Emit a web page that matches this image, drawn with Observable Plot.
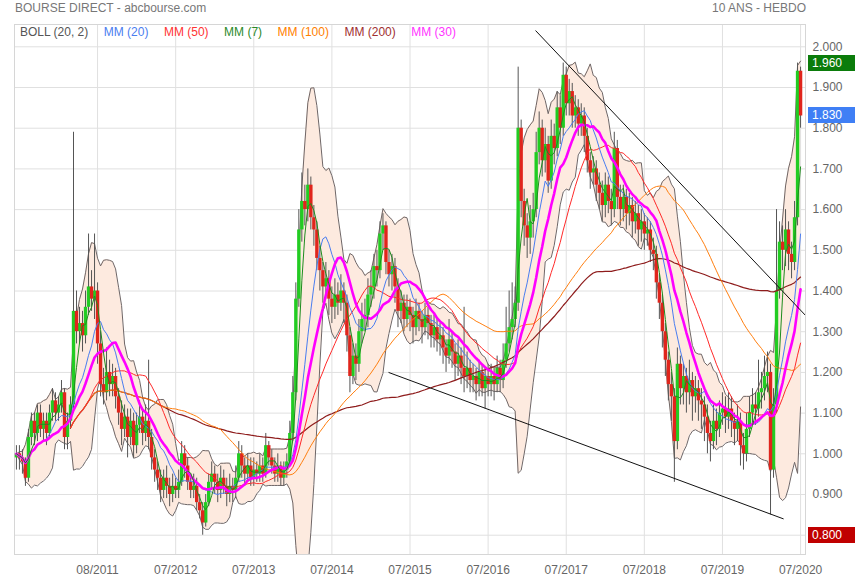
<!DOCTYPE html>
<html><head><meta charset="utf-8">
<script src="https://cdn.jsdelivr.net/npm/d3@7"></script>
<script src="https://cdn.jsdelivr.net/npm/@observablehq/plot@0.6"></script>
<style>
body{margin:0;background:#fff;font-family:"Liberation Sans",Arial,sans-serif;}
#wrap{position:relative;width:855px;height:580px;overflow:hidden;background:#fff;}
#wrap svg{display:block;position:absolute;left:0;top:0;}
.hdr{position:absolute;top:0;font-size:12px;color:#777;line-height:16px;white-space:nowrap;}
#legend{position:absolute;left:20px;top:24px;height:20px;display:flex;gap:15.5px;font-size:12px;line-height:17px;white-space:nowrap;}
.vbox{position:absolute;left:808px;width:47px;height:16px;color:#fff;font-size:12px;line-height:16px;padding-left:4px;box-sizing:border-box;}
</style></head><body><div id="wrap"></div>
<script>
// ---- data (biweekly sampling of the weekly chart) ----
const firstDate = "2010-07-19";
const firstOpen = 0.99;
const close = [
1.00,0.99,0.98,0.94,1.04,1.08,1.05,1.10,1.06,1.08,
1.05,1.10,1.13,1.10,1.12,1.15,1.04,1.08,1.12,1.35,
1.30,1.32,1.29,1.36,1.41,1.38,1.40,1.27,1.17,1.15,
1.20,1.17,1.19,1.14,1.10,1.06,1.09,1.04,1.08,1.02,
1.07,1.09,1.05,1.08,1.04,0.99,0.96,0.94,0.91,0.94,
0.92,0.90,0.92,0.91,0.93,1.00,0.97,0.93,0.91,0.92,
0.88,0.86,0.83,0.88,0.93,0.95,0.93,0.91,0.94,0.92,
0.90,0.92,0.91,0.94,1.00,0.97,0.95,0.97,0.94,0.96,
0.95,0.97,0.95,1.02,0.99,0.97,0.95,0.97,0.94,0.96,
0.98,1.05,1.15,1.38,1.55,1.62,1.60,1.66,1.58,1.55,
1.48,1.45,1.41,1.43,1.38,1.36,1.39,1.37,1.40,1.37,
1.29,1.19,1.24,1.22,1.30,1.33,1.34,1.39,1.41,1.46,
1.45,1.54,1.56,1.47,1.44,1.46,1.41,1.35,1.37,1.33,
1.36,1.34,1.31,1.35,1.33,1.31,1.34,1.32,1.29,1.31,
1.28,1.29,1.26,1.24,1.28,1.25,1.22,1.24,1.21,1.19,
1.21,1.18,1.19,1.17,1.20,1.16,1.19,1.17,1.19,1.17,
1.21,1.18,1.23,1.27,1.31,1.33,1.37,1.80,1.62,1.56,
1.53,1.57,1.60,1.74,1.80,1.72,1.76,1.67,1.78,1.75,
1.85,1.80,1.93,1.86,1.89,1.83,1.85,1.81,1.83,1.78,
1.72,1.69,1.70,1.66,1.64,1.61,1.66,1.62,1.60,1.75,
1.63,1.60,1.63,1.59,1.61,1.57,1.59,1.55,1.57,1.54,
1.55,1.50,1.49,1.42,1.37,1.30,1.23,1.17,1.14,1.03,
1.22,1.16,1.19,1.15,1.18,1.14,1.16,1.13,1.12,1.09,
1.05,1.03,1.08,1.06,1.10,1.11,1.09,1.11,1.08,1.06,
1.08,1.02,1.00,1.06,1.10,1.12,1.11,1.15,1.16,1.19,
1.20,0.96,1.12,1.40,1.52,1.50,1.55,1.49,1.47,1.58,
1.94,1.83];
const high = [
1.02,1.02,1.01,0.99,1.06,1.10,1.10,1.12,1.12,1.10,
1.10,1.12,1.16,1.15,1.14,1.18,1.16,1.10,1.14,1.79,
1.40,1.36,1.35,1.40,1.54,1.45,1.54,1.42,1.30,1.21,
1.26,1.23,1.22,1.21,1.16,1.13,1.12,1.11,1.11,1.10,
1.10,1.13,1.11,1.12,1.23,1.06,1.01,0.98,0.96,0.96,
0.97,0.94,0.95,0.94,0.96,1.03,1.02,0.99,0.95,0.95,
0.94,0.90,0.88,0.90,0.95,0.98,0.97,0.95,0.97,0.96,
0.94,0.95,0.94,0.97,1.03,1.02,0.99,1.00,0.99,0.99,
0.98,1.00,0.99,1.05,1.03,1.01,0.99,1.00,0.98,0.98,
1.00,1.08,1.19,1.42,1.60,1.69,1.66,1.70,1.68,1.61,
1.57,1.51,1.47,1.47,1.45,1.41,1.43,1.42,1.44,1.42,
1.39,1.31,1.27,1.27,1.33,1.37,1.38,1.43,1.45,1.49,
1.50,1.57,1.59,1.57,1.50,1.49,1.48,1.43,1.40,1.39,
1.39,1.38,1.36,1.38,1.37,1.35,1.37,1.36,1.34,1.34,
1.33,1.32,1.31,1.28,1.33,1.30,1.27,1.28,1.26,1.36,
1.25,1.23,1.22,1.21,1.23,1.22,1.21,1.22,1.22,1.21,
1.24,1.23,1.27,1.36,1.40,1.42,1.41,1.95,1.82,1.65,
1.59,1.61,1.64,1.79,1.84,1.82,1.80,1.78,1.82,1.81,
1.89,1.88,1.96,1.95,1.92,1.91,1.88,1.87,1.86,1.85,
1.80,1.74,1.73,1.72,1.69,1.67,1.69,1.68,1.65,1.79,
1.77,1.66,1.66,1.65,1.64,1.63,1.62,1.61,1.60,1.59,
1.58,1.57,1.53,1.51,1.44,1.39,1.32,1.25,1.20,1.16,
1.26,1.24,1.22,1.21,1.23,1.20,1.19,1.18,1.16,1.14,
1.12,1.08,1.12,1.11,1.13,1.15,1.14,1.15,1.14,1.10,
1.12,1.10,1.05,1.10,1.14,1.16,1.15,1.23,1.20,1.24,
1.25,1.22,1.16,1.60,1.57,1.56,1.60,1.57,1.52,1.62,
1.96,1.95];
const low = [
0.96,0.96,0.95,0.92,0.93,1.02,1.02,1.03,1.04,1.03,
1.02,1.04,1.08,1.08,1.08,1.10,1.01,1.01,1.06,1.10,
1.27,1.27,1.25,1.27,1.34,1.35,1.33,1.22,1.14,1.12,
1.13,1.14,1.14,1.11,1.07,1.02,1.04,0.99,1.02,0.99,
1.00,1.05,1.02,1.03,1.01,0.96,0.93,0.91,0.88,0.89,
0.89,0.87,0.88,0.89,0.89,0.92,0.94,0.91,0.89,0.89,
0.86,0.84,0.80,0.82,0.87,0.91,0.90,0.88,0.89,0.90,
0.87,0.88,0.88,0.89,0.93,0.94,0.92,0.93,0.92,0.92,
0.93,0.93,0.93,0.94,0.97,0.95,0.93,0.93,0.92,0.92,
0.94,0.97,1.03,1.13,1.36,1.52,1.56,1.57,1.55,1.51,
1.45,1.40,1.37,1.38,1.34,1.32,1.33,1.34,1.35,1.32,
1.25,1.15,1.17,1.18,1.20,1.27,1.30,1.31,1.36,1.38,
1.41,1.43,1.50,1.44,1.41,1.40,1.37,1.31,1.32,1.30,
1.31,1.30,1.27,1.29,1.30,1.27,1.29,1.28,1.26,1.26,
1.25,1.24,1.22,1.20,1.22,1.21,1.18,1.19,1.17,1.15,
1.16,1.15,1.15,1.13,1.14,1.14,1.11,1.14,1.14,1.13,
1.15,1.15,1.16,1.21,1.25,1.28,1.31,1.35,1.58,1.51,
1.48,1.49,1.53,1.58,1.71,1.68,1.69,1.64,1.65,1.71,
1.73,1.76,1.78,1.83,1.83,1.80,1.80,1.78,1.78,1.74,
1.69,1.65,1.66,1.62,1.60,1.57,1.58,1.59,1.56,1.58,
1.60,1.56,1.57,1.55,1.56,1.53,1.54,1.51,1.52,1.50,
1.51,1.47,1.45,1.38,1.33,1.26,1.19,1.13,1.08,0.93,
1.01,1.12,1.12,1.10,1.12,1.08,1.10,1.08,1.06,1.03,
1.00,0.98,1.01,1.02,1.04,1.07,1.05,1.06,1.04,1.02,
1.03,0.97,0.96,0.98,1.04,1.07,1.07,1.09,1.11,1.13,
1.15,0.85,0.94,1.10,1.38,1.45,1.46,1.45,1.43,1.45,
1.56,1.80];

const tickDates = ["2011-08-01","2012-07-30","2013-07-29","2014-07-28","2015-07-27","2016-07-25","2017-07-24","2018-07-23","2019-07-22","2020-07-20"];
const yTicks = [0.8,0.9,1.0,1.1,1.2,1.3,1.4,1.5,1.6,1.7,1.8,1.9,2.0];
const xDomain = ["2010-07-10","2020-08-12"];
const yDomain = [0.7526, 2.0548];

// indicators (weekly windows expressed in biweekly samples)
const legendLabels = ["BOLL (20, 2)","MM (20)","MM (50)","MM (7)","MM (100)","MM (200)","MM (30)"];
const legendColors = ["#555555","#4a7df0","#ff3333","#2a8a2a","#ff8000","#a03030","#ff33ff"];
const maWindows = {mm20:10, mm50:25, mm7:4, mm100:50, mm200:100, mm30:15};
const maStart = {mm20:10, mm50:18, mm7:0, mm100:18, mm200:18, mm30:0};
const bollWindow = 10, bollK = 2;

// trend lines drawn on the chart
const trendLines = [
  {x1:"2017-03-03", y1:2.04, x2:"2020-08-12", y2:1.34},
  {x1:"2015-04-18", y1:1.20, x2:"2020-05-02", y2:0.84}
];

// value markers on the right axis
const markerValues = [1.96, 1.83, 0.80];
const markerColors = ["#0b7c0b", "#3f7ff5", "#c00000"];

// ---- build rows ----
const t0 = new Date(firstDate);
const rows = close.map((c, i) => ({
  date: d3.utcDay.offset(t0, 14 * i),
  open: i === 0 ? firstOpen : close[i - 1],
  close: c, high: high[i], low: low[i]
}));
function sma(arr, k) { return arr.map((_, i) => d3.mean(arr.slice(Math.max(0, i - k + 1), i + 1))); }
for (const [name, k] of Object.entries(maWindows)) {
  const v = sma(close, k);
  rows.forEach((r, i) => r[name] = v[i]);
}
rows.forEach((r, i) => {
  const w = close.slice(Math.max(0, i - bollWindow + 1), i + 1);
  const m = d3.mean(w);
  const sd = Math.sqrt(d3.mean(w, v => (v - m) * (v - m)));
  r.bu = m + bollK * sd; r.bl = m - bollK * sd;
});
const up = rows.filter(r => r.close >= r.open);
const down = rows.filter(r => r.close < r.open);
const maLine = (name, stroke, sw) => Plot.line(rows.slice(maStart[name]), {x: "date", y: name, stroke, strokeWidth: sw, clip: true});

const chart = Plot.plot({
  width: 855, height: 580,
  marginLeft: 14, marginRight: 50, marginTop: 24, marginBottom: 26,
  style: {fontFamily: "'Liberation Sans', Arial, sans-serif", fontSize: "12px", color: "#666", background: "transparent", overflow: "visible"},
  x: {type: "utc", domain: xDomain.map(d => new Date(d)), ticks: tickDates.map(d => new Date(d)), tickFormat: d3.utcFormat("%m/%Y"), tickSize: 0, tickPadding: 11, label: null},
  y: {domain: yDomain, axis: "right", ticks: yTicks, tickFormat: d3.format(".3f"), tickSize: 0, tickPadding: 7, label: null},
  marks: [
    Plot.ruleY(yTicks, {stroke: "#e0e0e0"}),
    Plot.ruleX(tickDates.map(d => new Date(d)), {stroke: "#e0e0e0"}),
    Plot.frame({stroke: "#d6d6d6"}),
    Plot.areaY(rows, {x: "date", y1: "bl", y2: "bu", fill: "#fdeadf", clip: true}),
    Plot.line(rows, {x: "date", y: "bu", stroke: "#6f6666", strokeWidth: 1, clip: true}),
    Plot.line(rows, {x: "date", y: "bl", stroke: "#6f6666", strokeWidth: 1, clip: true}),
    Plot.ruleX(rows, {x: "date", y1: "low", y2: "high", stroke: "#555", strokeWidth: 1, clip: true}),
    Plot.ruleX(up, {x: "date", y1: "open", y2: "close", stroke: "#22cc22", strokeWidth: 3.4, clip: true}),
    Plot.ruleX(down, {x: "date", y1: "open", y2: "close", stroke: "#e0251c", strokeWidth: 3.4, clip: true}),
    maLine("mm200", "#8e1c1c", 1.2),
    maLine("mm100", "#ff7f10", 1),
    maLine("mm50", "#ff2a2a", 1),
    maLine("mm20", "#4a7df0", 1),
    maLine("mm30", "#ff00ff", 2.6),
    maLine("mm7", "#1e8c1e", 1),
    Plot.link(trendLines, {x1: d => new Date(d.x1), y1: "y1", x2: d => new Date(d.x2), y2: "y2", stroke: "#111", strokeWidth: 1, clip: true})
  ]
});

const wrap = document.getElementById("wrap");
wrap.appendChild(chart);

const h1 = document.createElement("div");
h1.className = "hdr"; h1.style.left = "15px"; h1.textContent = "BOURSE DIRECT - abcbourse.com";
wrap.appendChild(h1);
const h2 = document.createElement("div");
h2.className = "hdr"; h2.style.right = "49px"; h2.textContent = "10 ANS - HEBDO";
wrap.appendChild(h2);

const lg = document.createElement("div");
lg.id = "legend";
legendLabels.forEach((t, i) => {
  const s = document.createElement("span");
  s.textContent = t; s.style.color = legendColors[i];
  lg.appendChild(s);
});
wrap.appendChild(lg);

const ys = chart.scale("y");
markerValues.forEach((v, i) => {
  const b = document.createElement("div");
  b.className = "vbox";
  b.style.background = markerColors[i];
  b.style.top = (ys.apply(v) - 8) + "px";
  b.textContent = d3.format(".3f")(v);
  wrap.appendChild(b);
});
</script></body></html>
